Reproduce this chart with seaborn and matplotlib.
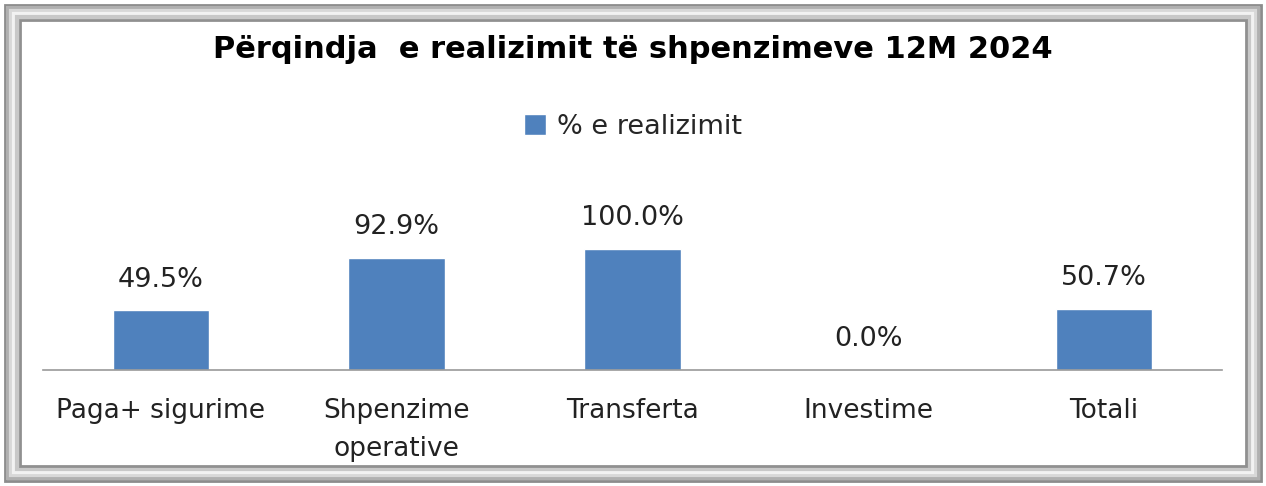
import matplotlib
matplotlib.use("Agg")
import matplotlib.pyplot as plt
import matplotlib.patches as mpatches
import pandas as pd
import seaborn as sns

categories = ["Paga+ sigurime", "Shpenzime\noperative", "Transferta", "Investime", "Totali"]
realizimi = [49.5, 92.9, 100.0, 0.0, 50.7]

df = pd.DataFrame({"Kategoria": categories, "Realizimi": realizimi})

sns.set_style("white")
plt.rcParams["font.family"] = ["DejaVu Sans"]

fig = plt.figure(figsize=(12.66, 4.86), dpi=100)
ax = fig.add_axes([43 / 1266, 116 / 486, 1179 / 1266, 181.5 / 486])

sns.barplot(data=df, x="Kategoria", y="Realizimi", color="#4F81BD",
            width=0.41, saturation=1, ax=ax, label="% e realizimit")

ax.set_xlim(-0.5, 4.5)
ax.set_ylim(0, 150)
ax.set_xlabel("")
ax.set_ylabel("")
ax.set_yticks([])
for side in ["top", "left", "right"]:
    ax.spines[side].set_visible(False)
ax.spines["bottom"].set_color("#999999")
ax.spines["bottom"].set_linewidth(1.2)
ax.tick_params(axis="x", length=0, pad=20, labelsize=19, colors="#222222")
for lbl in ax.get_xticklabels():
    lbl.set_linespacing(1.6)
    lbl.set_verticalalignment("top")

for i, v in enumerate(realizimi):
    ax.annotate(f"{v:.1f}%", (i, v), xytext=(0, 22), textcoords="offset points",
                ha="center", va="center", fontsize=19.5, color="#222222")

ax.legend(loc="center", bbox_to_anchor=(0.5, 1 - 127 / 486), bbox_transform=fig.transFigure,
          frameon=False, fontsize=19.5, handlelength=0.8, handleheight=0.8, handletextpad=0.4)

fig.text(0.5, 1 - 50 / 486, "Përqindja  e realizimit të shpenzimeve 12M 2024",
         ha="center", va="center", fontsize=22, fontweight="bold", color="black")

# beveled frame around the chart
W, H = 1266, 486
frame = [(5, "#8c8c8c", 2.0), (8, "#b0b0b0", 3.0), (11, "#d8d8d8", 3.0),
         (14, "#f2f2f2", 3.0), (17, "#c8c8c8", 3.0), (20, "#909090", 2.0)]
for off, col, lw in frame:
    fig.patches.append(mpatches.Rectangle((off / W, off / H), 1 - 2 * off / W, 1 - 2 * off / H,
                                          transform=fig.transFigure, fill=False,
                                          edgecolor=col, linewidth=lw))

fig.savefig("out.png", dpi=100)
